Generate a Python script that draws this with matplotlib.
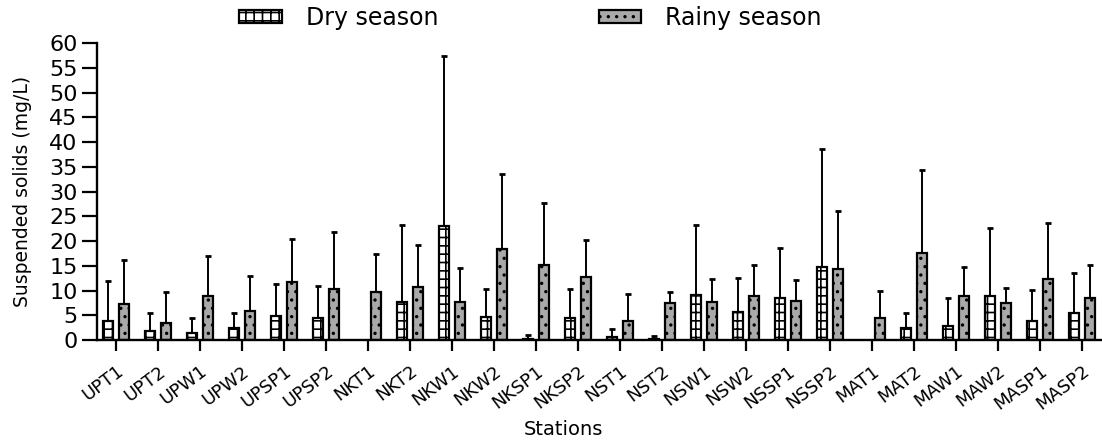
import numpy as np
import matplotlib
matplotlib.use("Agg")
import matplotlib.pyplot as plt

stations = ["UPT1", "UPT2", "UPW1", "UPW2", "UPSP1", "UPSP2", "NKT1", "NKT2",
            "NKW1", "NKW2", "NKSP1", "NKSP2", "NST1", "NST2", "NSW1", "NSW2",
            "NSSP1", "NSSP2", "MAT1", "MAT2", "MAW1", "MAW2", "MASP1", "MASP2"]

# mean suspended solids (mg/L) and standard deviation; NaN = not sampled
dry_mean = [3.9, 1.9, 1.4, 2.4, 4.9, 4.4, np.nan, 7.6,
            23.1, 4.7, 0.3, 4.5, 0.6, 0.25, 9.1, 5.6,
            8.4, 14.7, np.nan, 2.4, 2.9, 8.9, 3.9, 5.5]
dry_sd = [8.1, 3.5, 3.1, 3.1, 6.4, 6.6, np.nan, 15.7,
          34.3, 5.6, 0.7, 5.8, 1.6, 0.5, 14.1, 6.9,
          10.2, 23.9, np.nan, 3.1, 5.5, 13.8, 6.3, 8.0]
rainy_mean = [7.2, 3.4, 8.9, 5.9, 11.7, 10.4, 9.7, 10.7,
              7.6, 18.4, 15.1, 12.7, 3.9, 7.4, 7.6, 8.9,
              7.9, 14.4, 4.4, 17.6, 8.9, 7.4, 12.4, 8.4]
rainy_sd = [9.0, 6.4, 8.0, 7.0, 8.7, 11.5, 7.6, 8.5,
            6.9, 15.1, 12.7, 7.5, 5.4, 2.4, 4.8, 6.2,
            4.2, 11.6, 5.5, 16.8, 5.8, 3.1, 11.2, 6.7]

yticks = list(range(0, 61, 5))

plt.rcParams["font.family"] = "DejaVu Sans"
plt.rcParams["hatch.linewidth"] = 1.2

fig = plt.figure(figsize=(11.02, 4.45), dpi=100)
ax = fig.add_axes([97 / 1102, 105 / 445, 1 - 97 / 1102, (340 - 43.3) / 445])

x = np.arange(len(stations))
w = 0.24
off = 0.19

dry_mean_a = np.array(dry_mean, dtype=float)
dry_sd_a = np.array(dry_sd, dtype=float)
rainy_mean_a = np.array(rainy_mean, dtype=float)
rainy_sd_a = np.array(rainy_sd, dtype=float)

b1 = ax.bar(x - off, np.nan_to_num(dry_mean_a), w, color="white", edgecolor="black",
            linewidth=1.6, hatch="++", label="Dry season", zorder=2)
b2 = ax.bar(x + off, rainy_mean_a, w, color="#a9a9a9", edgecolor="black",
            linewidth=1.6, hatch="..", label="Rainy season", zorder=2)
for bar, v in zip(b1, dry_mean_a):
    if np.isnan(v):
        bar.set_visible(False)

ok = ~np.isnan(dry_mean_a)
ax.errorbar((x - off)[ok], dry_mean_a[ok],
            yerr=[np.zeros(ok.sum()), dry_sd_a[ok]],
            fmt="none", ecolor="black", elinewidth=1.4, capsize=2.2, capthick=2.0, zorder=1)
ax.errorbar(x + off, rainy_mean_a, yerr=[np.zeros(len(x)), rainy_sd_a],
            fmt="none", ecolor="black", elinewidth=1.4, capsize=2.2, capthick=2.0, zorder=1)

ax.set_xlim(-0.45, len(stations) - 1 + 0.48)
ax.set_ylim(0, 60)
ax.set_yticks(yticks)
ax.set_yticklabels([str(t) for t in yticks], fontsize=16)
ax.set_xticks(x)
ax.set_xticklabels(stations, rotation=37, ha="right", va="top",
                   rotation_mode="anchor", fontsize=13)

ax.tick_params(axis="y", length=11, width=1.6, pad=3)
ax.tick_params(axis="x", length=8, width=1.6, pad=8)
for s in ("top", "right"):
    ax.spines[s].set_visible(False)
for s in ("left", "bottom"):
    ax.spines[s].set_linewidth(1.7)

ax.set_ylabel("Suspended solids (mg/L)", fontsize=13.5, labelpad=12)
ax.set_xlabel("Stations", fontsize=14)
ax.xaxis.set_label_coords((563 - 97) / (1102 - 97), -0.27)

leg = fig.legend(handles=[b1, b2], loc="center left", ncol=2,
                 bbox_to_anchor=(230 / 1102, 1 - 18 / 445), frameon=False,
                 fontsize=17, handlelength=1.8, handleheight=0.45,
                 handletextpad=1.0, columnspacing=6.8, borderaxespad=0)

fig.savefig("out.png", dpi=100)
